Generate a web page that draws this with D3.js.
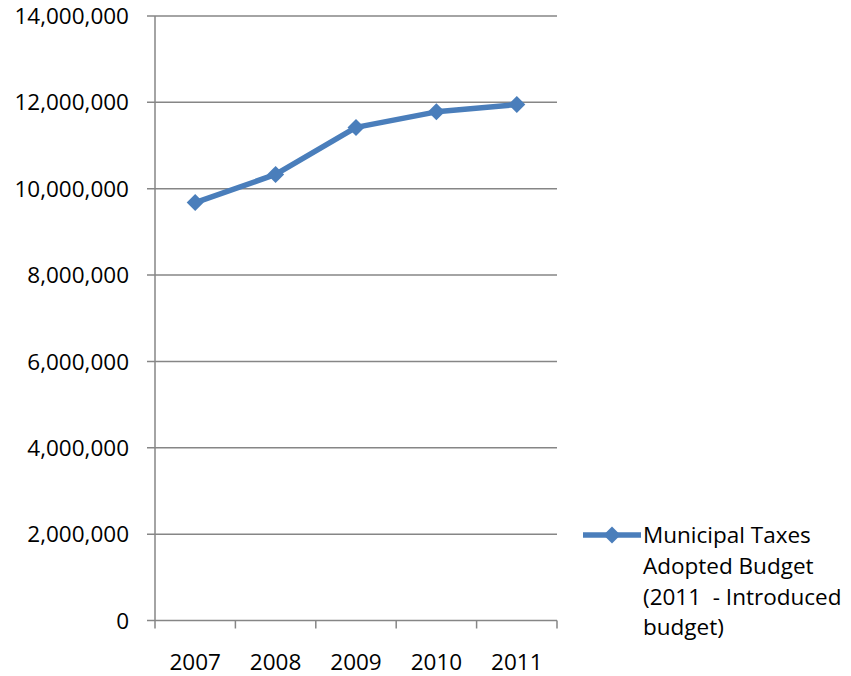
<!DOCTYPE html>
<html>
<head>
<meta charset="utf-8">
<script src="https://cdn.jsdelivr.net/npm/d3@7"></script>
<style>
  body { margin: 0; background: #fff; }
  text { font-family: "Open Sans", sans-serif; fill: #000; }
</style>
</head>
<body>
<div id="chart"></div>
<script>
// data
const years = ["2007", "2008", "2009", "2010", "2011"];
const taxes = [9680000, 10330000, 11420000, 11780000, 11950000];
const yTicks = [0, 2000000, 4000000, 6000000, 8000000, 10000000, 12000000, 14000000];
const legendLines = ["Municipal Taxes", "Adopted Budget", "(2011  - Introduced", "budget)"];

const width = 851;
const height = 676;
const margins = { top: 16, bottom: 55.5, left: 155, right: 294 };
const blue = "#4a7ebb";
const grey = "#868686";

const svg = d3.select("#chart")
  .append("svg")
  .attr("width", width)
  .attr("height", height);

/** SCALES */
const xScale = d3.scaleBand()
  .domain(years)
  .range([margins.left, width - margins.right])

const yScale = d3.scaleLinear()
  .domain([0, 14000000])
  .range([height - margins.bottom, margins.top])

// gridlines
svg.selectAll("line.grid")
  .data(yTicks)
  .join("line")
  .attr("class", "grid")
  .attr("x1", margins.left - 8)
  .attr("x2", width - margins.right)
  .attr("y1", d => yScale(d))
  .attr("y2", d => yScale(d))
  .attr("stroke", grey)
  .attr("stroke-width", 1.5)

// y axis line
svg.append("line")
  .attr("x1", margins.left).attr("x2", margins.left)
  .attr("y1", yScale(14000000)).attr("y2", yScale(0))
  .attr("stroke", grey)
  .attr("stroke-width", 1.5)

// y labels
svg.selectAll("text.ylab")
  .data(yTicks)
  .join("text")
  .attr("class", "ylab")
  .attr("x", 129)
  .attr("y", d => yScale(d))
  .attr("dy", "0.36em")
  .attr("text-anchor", "end")
  .style("font-size", "22.5px")
  .text(d => d3.format(",")(d))

// x tick marks at band edges
const edges = years.map(d => xScale(d)).concat([xScale(years[years.length - 1]) + xScale.bandwidth()]);
svg.selectAll("line.xtick")
  .data(edges)
  .join("line")
  .attr("class", "xtick")
  .attr("x1", d => d).attr("x2", d => d)
  .attr("y1", yScale(0)).attr("y2", yScale(0) + 8)
  .attr("stroke", grey)
  .attr("stroke-width", 1.5)

// x labels
svg.selectAll("text.xlab")
  .data(years)
  .join("text")
  .attr("class", "xlab")
  .attr("x", d => xScale(d) + xScale.bandwidth() / 2)
  .attr("y", 662)
  .attr("dy", "0.36em")
  .attr("text-anchor", "middle")
  .style("font-size", "22.5px")
  .text(d => d)

// the line
const line = d3.line()
  .x((d, i) => xScale(years[i]) + xScale.bandwidth() / 2)
  .y(d => yScale(d))

svg.append("path")
  .datum(taxes)
  .attr("d", line)
  .attr("fill", "none")
  .attr("stroke", blue)
  .attr("stroke-width", 5.5)
  .attr("stroke-linejoin", "round")

const diamond = d3.symbol().type(d3.symbolDiamond2).size(185);

svg.selectAll("path.marker")
  .data(taxes)
  .join("path")
  .attr("class", "marker")
  .attr("d", diamond)
  .attr("transform", (d, i) => `translate(${xScale(years[i]) + xScale.bandwidth() / 2},${yScale(d)})`)
  .attr("fill", blue)

// legend
const legendY = 535;
svg.append("line")
  .attr("x1", 583).attr("x2", 641)
  .attr("y1", legendY).attr("y2", legendY)
  .attr("stroke", blue)
  .attr("stroke-width", 5.5)
svg.append("path")
  .attr("d", diamond)
  .attr("transform", `translate(612,${legendY})`)
  .attr("fill", blue)

svg.selectAll("text.legend")
  .data(legendLines)
  .join("text")
  .attr("class", "legend")
  .attr("x", 643)
  .attr("y", (d, i) => legendY + i * 30.7)
  .attr("dy", "0.36em")
  .style("font-size", "22.5px")
  .style("white-space", "pre")
  .text(d => d)
</script>
</body>
</html>
